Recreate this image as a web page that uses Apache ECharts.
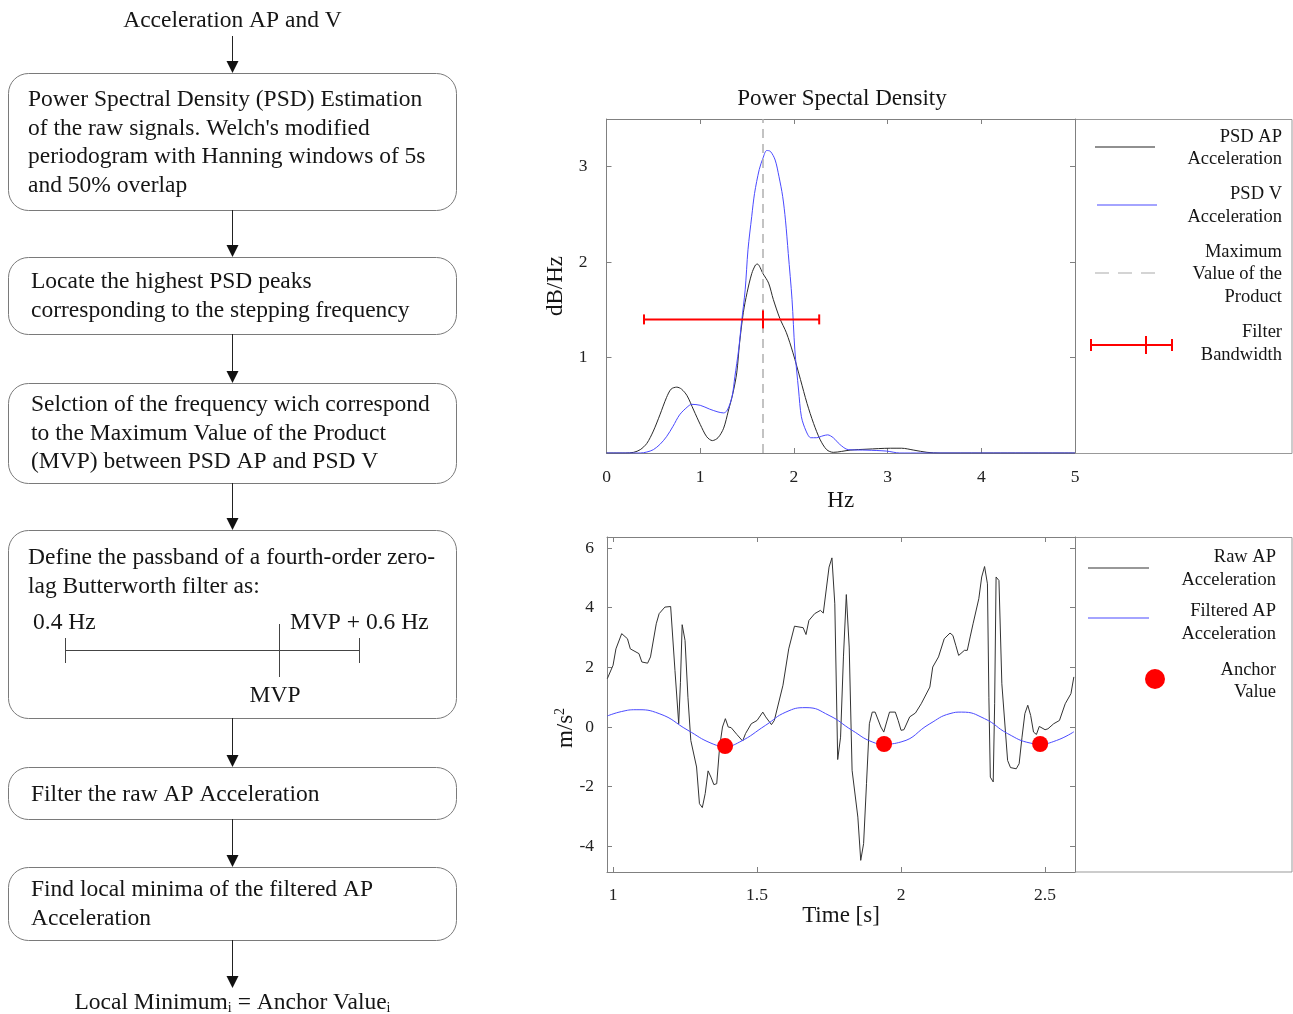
<!DOCTYPE html>
<html>
<head>
<meta charset="utf-8">
<script src="https://cdn.jsdelivr.net/npm/echarts@6/dist/echarts.min.js"></script>
<style>
  html, body { margin: 0; padding: 0; background: #fff; }
  #main { width: 1293px; height: 1014px; }
</style>
</head>
<body>
<div id="main"></div>
<script>
// ---- Power spectral density of the AP and V accelerations ----
const psdApHz  = [0, 0.2, 0.29, 0.36, 0.43, 0.5, 0.57, 0.64, 0.69, 0.75, 0.8, 0.86, 0.93, 1.0, 1.07, 1.13, 1.19, 1.25, 1.3, 1.35, 1.39, 1.42, 1.46, 1.5, 1.55, 1.59, 1.61, 1.67, 1.73, 1.78, 1.85, 1.92, 1.99, 2.07, 2.14, 2.21, 2.28, 2.35, 2.42, 2.6, 2.78, 3.03, 3.15, 3.28, 3.42, 3.56, 4.0, 5.0];
const psdApVal = [0, 0, 0.007, 0.035, 0.10, 0.23, 0.40, 0.58, 0.67, 0.69, 0.67, 0.60, 0.45, 0.30, 0.17, 0.13, 0.16, 0.26, 0.44, 0.63, 0.84, 1.15, 1.47, 1.68, 1.88, 1.97, 1.98, 1.88, 1.78, 1.61, 1.41, 1.26, 1.05, 0.77, 0.52, 0.31, 0.14, 0.035, 0.007, 0.03, 0.04, 0.05, 0.05, 0.03, 0.007, 0, 0, 0];

const psdVHz  = [0, 0.3, 0.36, 0.43, 0.5, 0.57, 0.64, 0.71, 0.78, 0.86, 0.91, 1.0, 1.1, 1.19, 1.25, 1.29, 1.34, 1.37, 1.41, 1.44, 1.48, 1.51, 1.55, 1.58, 1.63, 1.67, 1.71, 1.75, 1.8, 1.84, 1.88, 1.91, 1.94, 1.98, 2.01, 2.05, 2.08, 2.13, 2.18, 2.24, 2.31, 2.36, 2.42, 2.49, 2.58, 2.78, 2.99, 3.13, 5.0];
const psdVVal = [0, 0, 0, 0.01, 0.035, 0.09, 0.17, 0.28, 0.40, 0.48, 0.51, 0.50, 0.46, 0.43, 0.42, 0.45, 0.59, 0.80, 1.08, 1.36, 1.71, 2.13, 2.48, 2.72, 2.97, 3.09, 3.17, 3.16, 3.07, 2.90, 2.69, 2.44, 2.09, 1.61, 1.08, 0.66, 0.38, 0.23, 0.16, 0.16, 0.18, 0.19, 0.16, 0.09, 0.035, 0.03, 0.02, 0, 0];

// frequency of the maximum of the PSD product and the band-pass limits
const mvpHz = 1.67;
const bandLowHz = 0.4;
const bandHighHz = 2.27;
const bandLevel = 1.4;

// ---- Raw and filtered AP acceleration ----
const rawTime = [0.98, 1.0, 1.01, 1.03, 1.05, 1.06, 1.09, 1.10, 1.12, 1.13, 1.15, 1.16, 1.18, 1.20, 1.215, 1.228, 1.234, 1.24, 1.25, 1.26, 1.27, 1.29, 1.30, 1.31, 1.32, 1.33, 1.34, 1.35, 1.36, 1.37, 1.38, 1.39, 1.40, 1.41, 1.43, 1.45, 1.46, 1.48, 1.50, 1.52, 1.53, 1.55, 1.56, 1.59, 1.61, 1.63, 1.66, 1.67, 1.68, 1.70, 1.72, 1.73, 1.75, 1.76, 1.77, 1.78, 1.79, 1.80, 1.81, 1.82, 1.83, 1.85, 1.86, 1.87, 1.88, 1.89, 1.90, 1.91, 1.93, 1.94, 1.95, 1.96, 1.98, 1.99, 2.00, 2.01, 2.03, 2.05, 2.07, 2.10, 2.11, 2.13, 2.15, 2.17, 2.18, 2.19, 2.20, 2.22, 2.23, 2.24, 2.25, 2.27, 2.28, 2.29, 2.30, 2.305, 2.31, 2.32, 2.325, 2.33, 2.34, 2.35, 2.37, 2.38, 2.40, 2.41, 2.42, 2.43, 2.44, 2.45, 2.46, 2.47, 2.48, 2.50, 2.51, 2.53, 2.55, 2.57, 2.59, 2.60];
const rawAcc  = [1.62, 2.07, 2.62, 3.13, 2.96, 2.62, 2.46, 2.18, 2.14, 2.35, 3.46, 3.80, 4.02, 4.04, 1.90, 0.11, 1.5, 3.43, 2.90, 1.00, -0.45, -1.34, -2.57, -2.70, -2.23, -1.47, -1.68, -1.93, -1.90, -0.67, 0.00, 0.28, 0.00, -0.02, -0.25, -0.47, -0.22, 0.11, 0.22, 0.50, 0.34, 0.08, 0.22, 1.40, 2.62, 3.38, 3.33, 3.10, 3.57, 3.80, 3.91, 3.82, 5.36, 5.67, 4.13, -1.09, -0.34, 2.35, 4.44, 2.68, -1.45, -3.02, -4.47, -3.91, -1.90, 0.11, 0.50, 0.50, 0.00, -0.17, 0.17, 0.50, 0.50, 0.22, -0.11, -0.09, 0.34, 0.47, 0.78, 1.34, 2.01, 2.35, 2.96, 3.15, 3.07, 2.74, 2.40, 2.57, 2.57, 3.02, 3.46, 4.30, 5.03, 5.38, 4.80, 1.00, -1.68, -1.84, 0.78, 5.03, 4.91, 1.45, -1.12, -1.36, -1.40, -1.23, -0.34, 0.45, 0.73, 0.39, -0.17, -0.25, 0.02, -0.09, -0.06, 0.11, 0.22, 0.78, 1.12, 1.68];

const filtTime = [0.98, 1.03, 1.08, 1.16, 1.26, 1.34, 1.39, 1.44, 1.53, 1.60, 1.67, 1.75, 1.83, 1.90, 1.94, 2.00, 2.10, 2.17, 2.21, 2.29, 2.37, 2.45, 2.48, 2.54, 2.60];
const filtAcc  = [0.37, 0.52, 0.58, 0.45, -0.11, -0.54, -0.64, -0.50, 0.06, 0.50, 0.65, 0.39, -0.11, -0.50, -0.57, -0.50, 0.11, 0.45, 0.50, 0.28, -0.22, -0.54, -0.57, -0.45, -0.16];

// local minima of the filtered signal
const anchorTime = [1.389, 1.941, 2.483];
const anchorAcc  = [-0.64, -0.57, -0.57];

// tick labels
const psdYTicks = [1, 2, 3];
const timeTicks = [1, 1.5, 2, 2.5];
const accTicks  = [-4, -2, 0, 2, 4, 6];

// processing steps shown as a flow chart
const flowTitle = 'Acceleration AP and V';
const stepPsd = ['Power Spectral Density (PSD) Estimation', 'of the raw signals. Welch\'s modified', 'periodogram with Hanning windows of 5s', 'and 50% overlap'];
const stepPeaks = ['Locate the highest PSD peaks', 'corresponding to the stepping frequency'];
const stepMvp = ['Selction of the frequency wich correspond', 'to the Maximum Value of the Product', '(MVP) between PSD AP and PSD V'];
const stepBand = ['Define the passband of a fourth-order zero-', 'lag Butterworth filter as:'];
const stepFilter = ['Filter the raw AP Acceleration'];
const stepMinima = ['Find local minima of the filtered AP', 'Acceleration'];

const zip = (a, b) => a.map((v, i) => [v, b[i]]);

const FONT = '"Liberation Serif", "Times New Roman", serif';
const INK = '#151515';
const FRAME = '#808080';

// ---------- graphic helpers ----------
function text(x, y, s, size, align) {
  return { type: 'text', x: x, y: y, silent: true,
    style: { text: s, font: size + 'px ' + FONT, fill: INK, align: align || 'left', verticalAlign: 'middle' } };
}
function box(y0, y1) {
  return { type: 'rect', silent: true,
    shape: { x: 8.5, y: y0 + 0.5, width: 448, height: y1 - y0, r: 20 },
    style: { fill: 'none', stroke: '#7a7a7a', lineWidth: 1 } };
}
function arrow(y0, y1) {
  const cx = 232.5;
  return [
    { type: 'line', silent: true, shape: { x1: cx, y1: y0, x2: cx, y2: y1 - 10 }, style: { stroke: '#222', lineWidth: 1 } },
    { type: 'polygon', silent: true, shape: { points: [[cx - 6, y1 - 12], [cx + 6, y1 - 12], [cx, y1]] }, style: { fill: '#111' } }
  ];
}
function seg(x1, y1, x2, y2, color, w, dash) {
  return { type: 'line', silent: true, shape: { x1: x1, y1: y1, x2: x2, y2: y2 },
    style: { stroke: color, lineWidth: w || 1, lineDash: dash || null } };
}
function lines(arr, x, yStart, step) {
  return arr.map((s, i) => text(x, yStart + i * step, s, 23.5));
}

const G = [];
// flow chart
G.push(text(232.5, 20.5, flowTitle, 23.5, 'center'));
G.push(...arrow(36, 73));
G.push(box(73, 210));
G.push(...lines(stepPsd, 28, 100, 28.5));
G.push(...arrow(210, 257));
G.push(box(257, 334));
G.push(...lines(stepPeaks, 31, 282, 28.5));
G.push(...arrow(334, 383));
G.push(box(383, 483));
G.push(...lines(stepMvp, 31, 405, 28.5));
G.push(...arrow(483, 530));
G.push(box(530, 718));
G.push(...lines(stepBand, 28, 558, 28.5));
G.push(text(33, 623, '0.4 Hz', 23.5));
G.push(text(290, 623, 'MVP + 0.6 Hz', 23.5));
G.push(seg(65, 650.5, 359, 650.5, '#444'));
G.push(seg(65.5, 638, 65.5, 663, '#444'));
G.push(seg(279.5, 624, 279.5, 677, '#444'));
G.push(seg(359.5, 638, 359.5, 663, '#444'));
G.push(text(275, 696, 'MVP', 23.5, 'center'));
G.push(...arrow(718, 767));
G.push(box(767, 819));
G.push(...lines(stepFilter, 31, 795, 28.5));
G.push(...arrow(819, 867));
G.push(box(867, 940));
G.push(...lines(stepMinima, 31, 890, 28.5));
G.push(...arrow(940, 988));
G.push({ type: 'text', x: 232.5, y: 1002.5, silent: true,
  style: { text: '{a|Local Minimum}{s|i}{a| = Anchor Value}{s|i}', align: 'center', verticalAlign: 'middle',
    rich: {
      a: { font: '23.5px ' + FONT, fill: INK, lineHeight: 26, verticalAlign: 'middle' },
      s: { font: '14px ' + FONT, fill: INK, lineHeight: 14, verticalAlign: 'bottom', padding: [0, 0, 0, 0] }
    } } });

// axis name of the acceleration panel (m/s with superscript 2), rotated
G.push({ type: 'text', x: 566, y: 728, rotation: Math.PI / 2, silent: true,
  style: { text: '{a|m/s}{b|2}', align: 'center', verticalAlign: 'middle',
    rich: {
      a: { font: '23px ' + FONT, fill: INK, lineHeight: 26, verticalAlign: 'middle' },
      b: { font: '14px ' + FONT, fill: INK, lineHeight: 14, verticalAlign: 'top' }
    } } });

// legend boxes
G.push({ type: 'rect', silent: true, shape: { x: 1075.5, y: 119.5, width: 216.5, height: 334 }, style: { fill: 'none', stroke: '#999', lineWidth: 1 } });
G.push({ type: 'rect', silent: true, shape: { x: 1075.5, y: 537.5, width: 216.5, height: 334.5 }, style: { fill: 'none', stroke: '#999', lineWidth: 1 } });
const LS = 18.5;
// PSD legend
G.push(seg(1095, 147, 1155, 147, '#222', 1.2));
G.push(text(1282, 137, 'PSD AP', LS, 'right'));
G.push(text(1282, 159, 'Acceleration', LS, 'right'));
G.push(seg(1097, 205, 1157, 205, '#4a4aff', 1.2));
G.push(text(1282, 194, 'PSD V', LS, 'right'));
G.push(text(1282, 217, 'Acceleration', LS, 'right'));
G.push(seg(1095, 273, 1155, 273, '#aaaaaa', 1.2, [14, 9]));
G.push(text(1282, 252, 'Maximum', LS, 'right'));
G.push(text(1282, 274, 'Value of the', LS, 'right'));
G.push(text(1282, 297, 'Product', LS, 'right'));
G.push(seg(1091, 345, 1172, 345, '#ff0000', 2));
G.push(seg(1091, 339, 1091, 351, '#ff0000', 2));
G.push(seg(1172, 339, 1172, 351, '#ff0000', 2));
G.push(seg(1146, 336, 1146, 354, '#ff0000', 2));
G.push(text(1282, 332, 'Filter', LS, 'right'));
G.push(text(1282, 355, 'Bandwidth', LS, 'right'));
// acceleration legend
G.push(seg(1088, 568, 1149, 568, '#333', 1.2));
G.push(text(1276, 557, 'Raw AP', LS, 'right'));
G.push(text(1276, 580, 'Acceleration', LS, 'right'));
G.push(seg(1088, 618, 1149, 618, '#4a4aff', 1.2));
G.push(text(1276, 611, 'Filtered AP', LS, 'right'));
G.push(text(1276, 634, 'Acceleration', LS, 'right'));
G.push({ type: 'circle', silent: true, shape: { cx: 1155, cy: 679, r: 10 }, style: { fill: '#ff0000' } });
G.push(text(1276, 670, 'Anchor', LS, 'right'));
G.push(text(1276, 692, 'Value', LS, 'right'));

// ---------- axes ----------
const lbl = (margin, show) => ({ show: show !== false, margin: margin, fontFamily: FONT, fontSize: 17.5, color: '#222' });
const axLine = { show: true, onZero: false, lineStyle: { color: FRAME, width: 1 } };
const tk = (vals) => { const t = { show: true, inside: true, length: 5, lineStyle: { color: FRAME } }; if (vals) t.customValues = vals; return t; };
const nameStyle = { fontFamily: FONT, fontSize: 23, color: INK };

const option = {
  animation: false,
  backgroundColor: '#fff',
  title: { text: 'Power Spectal Density', left: 837, top: 82, textAlign: 'center',
    textStyle: { fontFamily: FONT, fontSize: 23, fontWeight: 'normal', color: INK } },
  grid: [
    { left: 606.5, top: 119, width: 468.5, height: 334 },
    { left: 607, top: 537, width: 468, height: 335 }
  ],
  xAxis: [
    { type: 'value', gridIndex: 0, position: 'bottom', min: 0, max: 5, interval: 1,
      axisLine: axLine, axisTick: tk(), axisLabel: lbl(15), splitLine: { show: false },
      name: 'Hz', nameLocation: 'middle', nameGap: 36, nameTextStyle: nameStyle },
    { type: 'value', gridIndex: 0, position: 'top', min: 0, max: 5, interval: 1,
      axisLine: axLine, axisTick: tk(), axisLabel: { show: false }, splitLine: { show: false } },
    { type: 'value', gridIndex: 1, position: 'bottom', min: 0.979, max: 2.604,
      axisLine: axLine, axisTick: tk(timeTicks), axisLabel: Object.assign(lbl(14), { customValues: timeTicks }), splitLine: { show: false },
      name: 'Time [s]', nameLocation: 'middle', nameGap: 30, nameTextStyle: nameStyle },
    { type: 'value', gridIndex: 1, position: 'top', min: 0.979, max: 2.604,
      axisLine: axLine, axisTick: tk(timeTicks), axisLabel: { show: false, customValues: timeTicks }, splitLine: { show: false } }
  ],
  yAxis: [
    { type: 'value', gridIndex: 0, position: 'left', min: 0, max: 3.5,
      axisLine: axLine, axisTick: tk(psdYTicks), axisLabel: Object.assign(lbl(19), { customValues: psdYTicks }), splitLine: { show: false },
      name: 'dB/Hz', nameLocation: 'middle', nameGap: 39, nameTextStyle: nameStyle },
    { type: 'value', gridIndex: 0, position: 'right', min: 0, max: 3.5,
      axisLine: axLine, axisTick: tk(psdYTicks), axisLabel: { show: false, customValues: psdYTicks }, splitLine: { show: false } },
    { type: 'value', gridIndex: 1, position: 'left', min: -4.86, max: 6.37,
      axisLine: axLine, axisTick: tk(accTicks), axisLabel: Object.assign(lbl(13), { customValues: accTicks }), splitLine: { show: false } },
    { type: 'value', gridIndex: 1, position: 'right', min: -4.86, max: 6.37,
      axisLine: axLine, axisTick: tk(accTicks), axisLabel: { show: false, customValues: accTicks }, splitLine: { show: false } }
  ],
  series: [
    { name: 'PSD AP Acceleration', type: 'line', xAxisIndex: 0, yAxisIndex: 0,
      data: zip(psdApHz, psdApVal), smooth: 0.3, showSymbol: false,
      lineStyle: { color: '#2a2a2a', width: 1 }, z: 3,
      markLine: { silent: true, symbol: 'none', label: { show: false },
        lineStyle: { color: '#b0b0b0', type: [9, 6], width: 1.5 },
        data: [{ xAxis: mvpHz }] } },
    { name: 'PSD V Acceleration', type: 'line', xAxisIndex: 0, yAxisIndex: 0,
      data: zip(psdVHz, psdVVal), smooth: 0.3, showSymbol: false,
      lineStyle: { color: '#4a4aff', width: 1 }, z: 4 },
    { name: 'Filter Bandwidth', type: 'custom', xAxisIndex: 0, yAxisIndex: 0,
      data: [[bandLowHz, bandHighHz, mvpHz, bandLevel]],
      encode: { x: [0, 1, 2], y: 3 }, z: 6,
      renderItem: function (params, api) {
        const lo = api.coord([api.value(0), api.value(3)]);
        const hi = api.coord([api.value(1), api.value(3)]);
        const mid = api.coord([api.value(2), api.value(3)]);
        const st = { stroke: '#ff0000', lineWidth: 2 };
        return { type: 'group', children: [
          { type: 'line', shape: { x1: lo[0], y1: lo[1], x2: hi[0], y2: hi[1] }, style: st },
          { type: 'line', shape: { x1: lo[0], y1: lo[1] - 5, x2: lo[0], y2: lo[1] + 5 }, style: st },
          { type: 'line', shape: { x1: hi[0], y1: hi[1] - 5, x2: hi[0], y2: hi[1] + 5 }, style: st },
          { type: 'line', shape: { x1: mid[0], y1: mid[1] - 9, x2: mid[0], y2: mid[1] + 9 }, style: st }
        ] };
      } },
    { name: 'Raw AP Acceleration', type: 'line', xAxisIndex: 2, yAxisIndex: 2,
      data: zip(rawTime, rawAcc), showSymbol: false,
      lineStyle: { color: '#333', width: 1 }, z: 3 },
    { name: 'Filtered AP Acceleration', type: 'line', xAxisIndex: 2, yAxisIndex: 2,
      data: zip(filtTime, filtAcc), smooth: 0.5, showSymbol: false,
      lineStyle: { color: '#4a4aff', width: 1 }, z: 4 },
    { name: 'Anchor Value', type: 'scatter', xAxisIndex: 2, yAxisIndex: 2,
      data: zip(anchorTime, anchorAcc), symbol: 'circle', symbolSize: 16,
      itemStyle: { color: '#ff0000', opacity: 1 }, z: 6 }
  ],
  graphic: G
};

const chart = echarts.init(document.getElementById('main'), null, { renderer: 'canvas' });
chart.setOption(option);
</script>
</body>
</html>
